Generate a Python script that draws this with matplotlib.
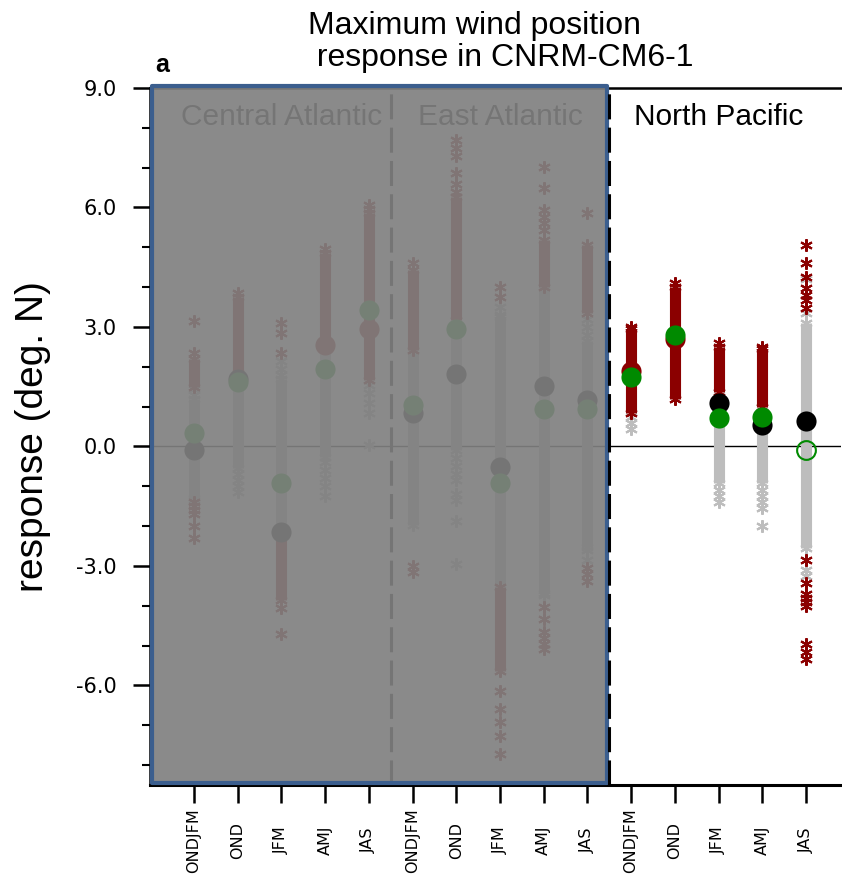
import numpy as np
import matplotlib.pyplot as plt
import matplotlib.transforms as mtransforms
from matplotlib.patches import Rectangle

plt.rcParams["font.family"] = ["Liberation Sans", "DejaVu Sans"]

seasons = ["ONDJFM", "OND", "JFM", "AMJ", "JAS"]
regions = ["Central Atlantic", "East Atlantic", "North Pacific"]

# dense part of the ensemble (grey = all members, red = significant members)
gray_bar = [(-1.3, 1.2), (-0.55, 1.8), (-2.1, 1.7), (-0.27, 2.5), None,
            (-1.98, 2.4), (-0.1, 3.17), (-3.54, 3.24), (-3.67, 4.0), (-2.53, 2.66),
            None, None, (-0.93, 1.36), (-0.93, 1.0), (-2.54, 3.1)]
red_bar = [(1.5, 2.2), (1.85, 3.75), (-3.85, -2.2), (2.55, 4.85), (1.66, 5.85),
           (2.41, 4.42), (3.17, 6.26), (-5.63, -3.54), (4.0, 5.18), (3.34, 5.05),
           (0.83, 2.95), (1.2, 4.0), (1.36, 2.5), (1.0, 2.45), None]

# single members outside the dense part
gray_stars = [[1.45, 1.3, -1.35],
              [-0.7, -0.85, -1.0, -1.15],
              [2.15, 1.95, 1.8],
              [-0.4, -0.6, -0.8, -1.0, -1.25],
              [1.55, 1.35, 1.1, 0.83, 0.03],
              [],
              [-0.3, -0.5, -0.7, -0.85, -1.2, -1.35, -1.86, -2.94],
              [3.5, 3.3],
              [-3.74],
              [3.2, 3.0, 2.8, -2.61, -2.86],
              [0.75, 0.6, 0.45],
              [],
              [-1.1, -1.25, -1.4],
              [-1.1, -1.25, -1.4, -1.55, -2.0],
              [4.2, 3.34, -3.1, -3.25]]
red_stars = [[3.15, 2.35, -1.4, -1.5, -1.6, -1.7, -2.0, -2.3],
             [3.85],
             [3.1, 2.85, 2.35, -4.05, -4.7],
             [4.95],
             [6.05, 5.95],
             [4.6, -3.0, -3.15],
             [7.69, 7.5, 7.3, 6.86, 6.6, 6.4],
             [4.0, 3.75, -6.13, -6.58, -6.93, -7.26, -7.71],
             [7.01, 6.48, 5.93, 5.75, 5.6, 5.43, -4.04, -4.33, -4.67, -4.8, -4.95, -5.08],
             [5.85, -3.04, -3.2, -3.37],
             [3.0],
             [4.1],
             [2.6],
             [2.5],
             [5.07, 4.6, 4.25, 3.97, 3.8, 3.67, 3.47, -2.86, -3.44, -3.7, -3.8,
              -3.9, -4.0, -4.95, -5.17, -5.33]]

ens_mean = [-0.1, 1.7, -2.15, 2.54, 2.96, 0.83, 1.81, -0.52, 1.53, 1.16,
            1.9, 2.7, 1.1, 0.55, 0.65]
mean_sig = [0, 0, 0, 1, 1, 0, 0, 0, 0, 0, 1, 1, 0, 0, 0]
green_val = [0.33, 1.61, -0.93, 1.95, 3.42, 1.03, 2.94, -0.92, 0.93, 0.93,
             1.75, 2.81, 0.72, 0.75, -0.1]
green_sig = [1, 1, 1, 1, 1, 1, 1, 1, 1, 1, 1, 1, 1, 1, 0]

GRAY = "#bdbdbd"
RED = "#8b0000"
GREEN = "#008a00"
star = (6, 2, 0)

fig = plt.figure(figsize=(8.42, 8.75), dpi=100)
ax = fig.add_axes([0.1785, 0.10286, 0.8202, 0.79657])
ax.set_xlim(0, 15.8)
ax.set_ylim(-8.5, 9.0)

xpos = np.arange(1, 16)
for i, xi in enumerate(xpos):
    if gray_bar[i]:
        ax.plot([xi, xi], gray_bar[i], color=GRAY, lw=8, solid_capstyle="butt", zorder=2)
        ax.plot([xi, xi], gray_bar[i], ls="none", marker=star, ms=9, mew=1.5,
                color=GRAY, zorder=2)
    if gray_stars[i]:
        ax.plot([xi] * len(gray_stars[i]), gray_stars[i], ls="none", marker=star,
                ms=9, mew=1.5, color=GRAY, zorder=2)
    if red_bar[i]:
        ax.plot([xi, xi], red_bar[i], color=RED, lw=8, solid_capstyle="butt", zorder=3)
        ax.plot([xi, xi], red_bar[i], ls="none", marker=star, ms=9, mew=1.5,
                color=RED, zorder=3)
    if red_stars[i]:
        ax.plot([xi] * len(red_stars[i]), red_stars[i], ls="none", marker=star,
                ms=9, mew=1.5, color=RED, zorder=3)
    ax.plot(xi, ens_mean[i], "o", ms=14.5, mew=0,
            color=RED if mean_sig[i] else "black", zorder=4)
    if green_sig[i]:
        ax.plot(xi, green_val[i], "o", ms=14.5, mew=0, color=GREEN, zorder=5)
    else:
        ax.plot(xi, green_val[i], "o", ms=13.5, mew=1.5, mfc="none", mec=GREEN, zorder=5)

ax.axhline(0, color="black", lw=1, zorder=1)
ax.axvline(5.5, color="black", lw=2.2, ls=(0, (8.2, 2.7)), zorder=1.5)
ax.axvline(10.5, color="black", lw=2.2, ls=(0, (8.2, 2.7)), zorder=7)

for j, name in enumerate(regions):
    ax.text(3 + 5 * j, 8.06, name, ha="center", va="baseline", fontsize=21.5,
            color="black", zorder=7 if j == 2 else 1)

# shade the Atlantic sectors
ax.add_patch(Rectangle((0.05, -8.45), 10.4, 17.49, facecolor=(0.5, 0.5, 0.5, 0.92),
                       edgecolor="#3b5e8e", lw=3, joinstyle="round",
                       zorder=6, clip_on=False))

ax.set_xticks(xpos)
ax.set_xticklabels(seasons * 3, rotation=90, fontsize=11.5, family="DejaVu Sans",
                   va="center")
shift = mtransforms.ScaledTranslation(5 / 100, 0, fig.dpi_scale_trans)
for lab in ax.get_xticklabels():
    lab.set_transform(lab.get_transform() + shift)
ax.set_yticks([-6, -3, 0, 3, 6, 9])
ax.set_yticklabels(["%.1f" % v for v in [-6, -3, 0, 3, 6, 9]], fontsize=15,
                   family="DejaVu Sans")
ax.set_yticks(np.arange(-8, 9, 1.0), minor=True)
ax.tick_params(axis="y", which="major", length=12, width=1.8, pad=12)
ax.tick_params(axis="y", which="minor", length=6, width=1.5)
ax.tick_params(axis="x", which="major", length=13, width=1.8, pad=27)

ax.spines["right"].set_visible(False)
ax.spines["top"].set_linewidth(1.8)
ax.spines["bottom"].set_linewidth(2.2)
ax.spines["left"].set_linewidth(1.8)

ax.set_ylabel("response (deg. N)", fontsize=28, labelpad=18)

fig.text(501 / 842, 1 - 66 / 875, "Maximum wind position\n response in CNRM-CM6-1",
         ha="center", va="baseline", multialignment="left", fontsize=23,
         linespacing=1.07)
fig.text(155 / 842, 1 - 72 / 875, "a", fontsize=18, fontweight="bold",
         ha="left", va="baseline")

fig.savefig("out.png", dpi=100)
